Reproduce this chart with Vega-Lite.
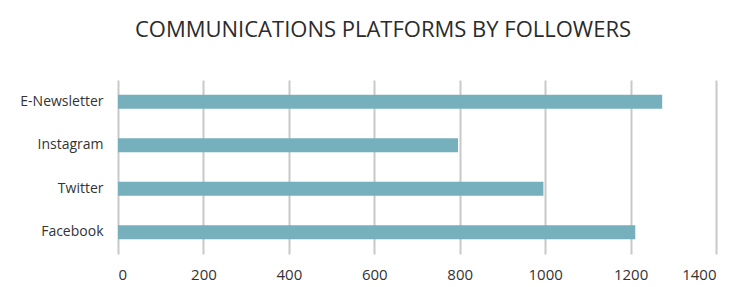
{
  "$schema": "https://vega.github.io/schema/vega-lite/v6.json",
  "width": 598,
  "height": 174,
  "autosize": {"type": "none"},
  "padding": {"left": 118, "top": 80, "right": 32, "bottom": 33},
  "background": "white",
  "title": {
    "text": "COMMUNICATIONS PLATFORMS BY FOLLOWERS",
    "font": "Open Sans",
    "fontSize": 22,
    "fontWeight": "normal",
    "color": "#2b2b2b",
    "anchor": "middle",
    "dx": -34,
    "offset": 21,
    "baseline": "alphabetic"
  },
  "data": {
    "values": [
      {"platform": "E-Newsletter", "followers": 1274},
      {"platform": "Instagram", "followers": 796},
      {"platform": "Twitter", "followers": 996},
      {"platform": "Facebook", "followers": 1211}
    ]
  },
  "mark": {"type": "bar", "color": "#75b0bc"},
  "encoding": {
    "y": {
      "field": "platform",
      "type": "nominal",
      "sort": null,
      "scale": {"paddingInner": 0.68, "paddingOuter": 0.34},
      "axis": {
        "title": null,
        "domain": false,
        "ticks": false,
        "grid": false,
        "labelFont": "Open Sans",
        "labelFontSize": 14,
        "labelColor": "#333333",
        "labelPadding": 15
      }
    },
    "x": {
      "field": "followers",
      "type": "quantitative",
      "scale": {"domain": [0, 1400], "nice": false},
      "axis": {
        "title": null,
        "values": [0, 200, 400, 600, 800, 1000, 1200, 1400],
        "format": "d",
        "domain": false,
        "ticks": false,
        "grid": true,
        "gridColor": "#c8c8c8",
        "gridWidth": 2,
        "gridOpacity": 1,
        "labelFont": "Open Sans",
        "labelFontSize": 15,
        "labelColor": "#333333",
        "labelPadding": 13
      }
    }
  },
  "config": {"view": {"stroke": null}}
}
